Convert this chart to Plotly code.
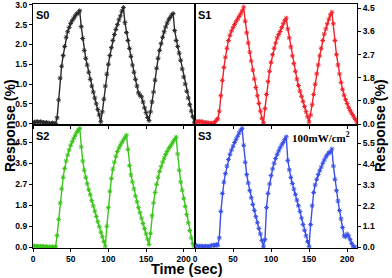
import plotly.graph_objects as go

TIME = [0, 2, 4, 6, 8, 10, 12, 14, 16, 18, 20, 22, 24, 26, 28, 30,
        32, 34, 36, 38, 40, 42, 44, 46, 48, 50, 52, 54, 56, 58, 60, 62,
        64, 66, 68, 70, 72, 74, 76, 78, 80, 82, 84, 86, 88, 90,
        92, 94, 96, 98, 100, 102, 104, 106, 108, 110, 112, 114, 116, 118, 120,
        122, 124, 126, 128, 130, 132, 134, 136, 138, 140, 142, 144, 146, 148, 150, 152, 154,
        156, 158, 160, 162, 164, 166, 168, 170, 172, 174, 176, 178, 180, 182, 184, 186,
        188, 190, 192, 194, 196, 198, 200, 202, 204, 206, 208, 210, 212, 214]

S0 = [0.03, 0.04, 0.05, 0.05, 0.04, 0.05, 0.04, 0.03, 0.02, 0.03, 0.02, 0.01, 0.01, 0.02, 0.01, 0.00,
      0.15, 0.6, 1.15, 1.45, 1.72, 1.95, 2.18, 2.32, 2.43, 2.53, 2.6, 2.66, 2.72, 2.77, 2.8, 2.85,
      2.45, 2.15, 1.85, 1.65, 1.48, 1.3, 1.12, 0.95, 0.8, 0.65, 0.5, 0.36, 0.22, 0.05,
      0.3, 0.62, 0.95, 1.25, 1.5, 1.72, 1.92, 2.1, 2.25, 2.38, 2.5, 2.62, 2.72, 2.84, 2.93,
      2.55, 2.3, 2.1, 1.9, 1.7, 1.48, 1.3, 1.12, 0.95, 0.78, 0.72, 0.68, 0.55, 0.4, 0.28, 0.16, 0.08,
      0.3, 0.55, 0.8, 1.1, 1.4, 1.65, 1.85, 2.02, 2.18, 2.32, 2.44, 2.54, 2.62, 2.68, 2.74, 2.78,
      2.35, 2.1, 1.95, 1.78, 1.6, 1.38, 1.18, 1.0, 0.82, 0.65, 0.48, 0.32, 0.18, 0.02]

S1 = [0.05, 0.08, 0.1, 0.08, 0.1, 0.08, 0.05, 0.06, 0.05, 0.04, 0.03, 0.03, 0.05, 0.05, 0.15, 0.2,
      0.5, 1.1, 1.7, 2.2, 2.6, 2.95, 3.25, 3.45, 3.62, 3.75, 3.87, 3.98, 4.08, 4.18, 4.28, 4.4,
      4.55, 4.0, 3.55, 3.15, 2.8, 2.45, 2.1, 1.75, 1.42, 1.1, 0.8, 0.5, 0.22, 0.05,
      0.6, 1.15, 1.65, 2.05, 2.4, 2.7, 2.95, 3.15, 3.35, 3.48, 3.6, 3.75, 3.9, 4.02, 4.12,
      3.7, 3.35, 3.0, 2.65, 2.35, 2.05, 1.75, 1.5, 1.28, 1.08, 0.88, 0.68, 0.48, 0.28, 0.08, 0.35, 0.75,
      1.15, 1.55, 1.95, 2.3, 2.65, 2.95, 3.25, 3.5, 3.7, 3.9, 4.08, 4.25, 4.35, 3.9, 3.25, 2.7,
      2.3, 1.95, 1.62, 1.35, 1.12, 0.95, 0.8, 0.65, 0.52, 0.42, 0.32, 0.22, 0.12, 0.02]

S2 = [0.05, 0.06, 0.04, 0.05, 0.03, 0.04, 0.05, 0.03, 0.02, 0.03, 0.02, 0.01, 0.02, 0.02, 0.01, 0.03,
      0.5, 1.2, 1.9, 2.5, 3.0, 3.38, 3.7, 3.95, 4.17, 4.37, 4.53, 4.67, 4.8, 4.93, 5.02, 5.1,
      4.3, 3.7, 3.3, 3.0, 2.72, 2.47, 2.25, 2.0, 1.77, 1.55, 1.32, 1.1, 0.88, 0.65, 0.45, 0.25, 0.05,
      0.9, 1.7, 2.4, 2.95, 3.35, 3.65, 3.9, 4.1, 4.25, 4.38, 4.5, 4.6, 4.7, 4.8,
      4.2, 3.5, 3.1, 2.8, 2.5, 2.2, 1.95, 1.7, 1.48, 1.25, 1.02, 0.8, 0.58, 0.35, 0.12,
      0.6, 1.35, 1.9, 2.35, 2.7, 3.0, 3.25, 3.45, 3.65, 3.82, 3.97, 4.1, 4.22, 4.32, 4.42, 4.52, 4.62, 4.72,
      4.0, 3.3, 2.8, 2.45, 2.1, 1.75, 1.4, 1.05, 0.72, 0.4, 0.15, 0.05]

S3 = [0.05, 0.08, 0.06, 0.05, 0.07, 0.05, 0.04, 0.06, 0.05, 0.04, 0.06, 0.1, 0.12, 0.08, 0.15, 0.1,
      0.5, 1.9, 2.85, 3.45, 3.9, 4.3, 4.65, 4.92, 5.15, 5.35, 5.55, 5.72, 5.88, 6.05, 6.2, 6.3,
      5.4, 4.5, 3.85, 3.4, 3.0, 2.62, 2.27, 1.95, 1.62, 1.3, 1.0, 0.7, 0.35, 0.05,
      0.4, 2.1, 2.85, 3.35, 3.8, 4.15, 4.45, 4.7, 4.92, 5.1, 5.27, 5.42, 5.55, 5.7, 5.85,
      4.6, 4.1, 3.7, 3.38, 3.08, 2.8, 2.5, 2.2, 1.9, 1.55, 1.2, 0.9, 0.6, 0.3, 0.05, 1.2, 2.2,
      2.9, 3.3, 3.6, 3.85, 4.05, 4.25, 4.45, 4.62, 4.78, 4.9, 5.0, 5.05, 5.2, 4.3, 3.6, 3.0,
      2.45, 1.95, 1.5, 1.05, 0.6, 0.55, 0.7, 0.6, 0.4, 0.2, 0.05, 0.02, None, None]

LABELS = ["S0", "S1", "S2", "S3"]
COLORS = ["#2a2a2a", "#f0222a", "#3cc41c", "#3a50e6"]
SERIES = [S0, S1, S2, S3]
Y_RANGES = [[-0.02, 3.02], [-0.02, 4.67], [-0.03, 5.26], [-0.04, 6.5]]
Y_DTICK = [0.5, 0.9, 0.9, 1.1]
X_TICKS = [0, 50, 100, 150, 200]

fig = go.Figure()
for i, (lab, col, ys) in enumerate(zip(LABELS, COLORS, SERIES)):
    ax = "" if i == 0 else str(i + 1)
    fig.add_trace(go.Scatter(
        x=TIME, y=ys, mode="lines+markers", name=lab,
        line=dict(color=col, width=1.4),
        marker=dict(symbol="asterisk-open", size=4, color=col, line=dict(color=col, width=1)),
        xaxis="x" + ax, yaxis="y" + ax, showlegend=False, cliponaxis=True))

tickfont = dict(family="Liberation Sans, Arial", size=8.5, color="black", weight="bold")
split_x = 0.5
split_y = 0.506
x_domains = [[0, split_x], [split_x, 1], [0, split_x], [split_x, 1]]
y_domains = [[split_y, 1], [split_y, 1], [0, split_y], [0, split_y]]
x_ranges = [[0, 215], [0, 213], [0, 215], [0, 213]]

for i in range(4):
    ax = "" if i == 0 else str(i + 1)
    bottom = i >= 2
    right = i % 2 == 1
    fig.update_layout(**{
        "xaxis" + ax: dict(domain=x_domains[i], range=x_ranges[i], anchor="y" + ax,
                           tickvals=X_TICKS, showticklabels=bottom, ticks="outside",
                           ticklen=3, tickwidth=1, tickcolor="black",
                           showline=True, linecolor="black", linewidth=1.3, mirror=True,
                           showgrid=False, zeroline=False, tickfont=tickfont,
                           ticklabeloverflow="allow"),
        "yaxis" + ax: dict(domain=y_domains[i], range=Y_RANGES[i], anchor="x" + ax,
                           side="right" if right else "left",
                           tick0=0, dtick=Y_DTICK[i], tickformat=".1f",
                           ticks="outside", ticklen=3, tickwidth=1, tickcolor="black",
                           showline=True, linecolor="black", linewidth=1.3, mirror=True,
                           showgrid=False, zeroline=False, tickfont=tickfont,
                           ticklabeloverflow="allow"),
    })

annotations = []
label_pos = [(0, 1), (split_x, 1), (0, split_y), (split_x, split_y)]
for lab, (px, py) in zip(LABELS, label_pos):
    annotations.append(dict(text="<b>" + lab + "</b>", x=px, y=py, xref="paper", yref="paper",
                            xanchor="left", yanchor="top", xshift=1, yshift=-3, showarrow=False,
                            font=dict(family="Liberation Sans, Arial", size=11, color="black")))
annotations.append(dict(text="<b>100mW/cm<sup>2</sup></b>", x=0.985, y=split_y, xref="paper", yref="paper",
                        xanchor="right", yanchor="top", yshift=-3, showarrow=False,
                        font=dict(family="Liberation Serif, Times New Roman", size=11, color="black")))
annotations.append(dict(text="<b>Time (sec)</b>", x=0.5, y=0, xref="paper", yref="paper",
                        xanchor="center", yanchor="top", xshift=-8, yshift=-11, showarrow=False,
                        font=dict(family="Liberation Sans, Arial", size=14.5, color="black")))
for xp, xs in [(0, -23), (1, 23)]:
    annotations.append(dict(text="<b>Response (%)</b>", x=xp, y=0.5, xref="paper", yref="paper",
                            xanchor="center", yanchor="middle", xshift=xs, textangle=-90,
                            showarrow=False,
                            font=dict(family="Liberation Sans, Arial", size=14, color="black")))

fig.update_layout(width=392, height=278, margin=dict(l=33, r=35, t=4, b=30, autoexpand=False),
                  paper_bgcolor="white", plot_bgcolor="white", annotations=annotations)

fig.write_html("out.html", config={"displayModeBar": False},
               post_script="document.body.style.margin='0';document.body.style.overflow='hidden';")
